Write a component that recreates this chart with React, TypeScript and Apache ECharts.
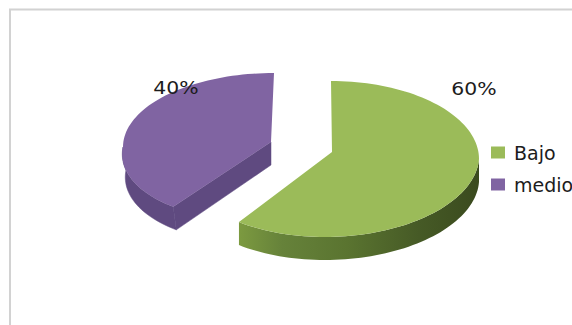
import React, { useEffect, useRef } from "react";
import * as echarts from "echarts";

const categories = ["Bajo", "medio"];
const shares = [60, 40];
const topColors = ["#9bbb59", "#8064a2"];

// Each slice is pulled out of the pie, so it keeps its own ellipse and apex.
// lean slants the lower half of the rim to give the perspective of the tilted pie;
// wallShift moves the bottom edge of the wall sideways for the same reason.
const sliceFrames = [
  { cx: 331, cy: 159, rx: 148, ry: 78, ax: 332, ay: 152, lean: 0.08, wallShift: 0, labelX: 474, labelY: 89 },
  { cx: 274, cy: 147, rx: 151, ry: 74, ax: 271, ay: 142, lean: 0.2, wallShift: 3, labelX: 176, labelY: 88 },
];
const DEPTH = 23;

const total = shares.reduce((a, b) => a + b, 0);

function rimPoint(f: any, deg: number, drop = 0): [number, number] {
  const t = (deg * Math.PI) / 180;
  const dy = -f.ry * Math.cos(t);
  const x = f.cx + f.rx * Math.sin(t) - f.lean * Math.max(0, dy) + (drop ? f.wallShift : 0);
  return [x, f.cy + dy + drop];
}

function arcPoints(f: any, from: number, to: number, drop = 0) {
  const steps = Math.max(2, Math.ceil(Math.abs(to - from) / 2));
  const pts: [number, number][] = [];
  for (let i = 0; i <= steps; i++) pts.push(rimPoint(f, from + ((to - from) * i) / steps, drop));
  return pts;
}

function makeRenderer(index: number) {
  const f = sliceFrames[index];
  const startShare = shares.slice(0, index).reduce((a, b) => a + b, 0);
  return (_params: any, api: any) => {
    const value = api.value(0);
    const start = (startShare / total) * 360;
    const end = start + (value / total) * 360;
    const children: any[] = [];

    // Cut face of the left slice, visible below its lower straight edge.
    if (index === 1) {
      children.push({
        type: "polygon",
        shape: {
          points: [
            [f.ax, f.ay],
            rimPoint(f, start),
            rimPoint(f, start, DEPTH),
            [f.ax, f.ay + DEPTH],
          ],
        },
        style: { fill: "#5f4a80", stroke: "#5f4a80", lineWidth: 0.5 },
      });
    }

    // Outer wall: only the part of the rim facing the viewer (90deg to 270deg).
    const wallFrom = Math.max(start, 90);
    const wallTo = Math.min(end, 270);
    if (wallTo > wallFrom) {
      const upper = arcPoints(f, wallFrom, wallTo);
      const lower = arcPoints(f, wallTo, wallFrom, DEPTH);
      children.push({
        type: "polygon",
        shape: { points: [...upper, ...lower] },
        style:
          index === 0
            ? {
                fill: new echarts.graphic.LinearGradient(0, 0, 1, 0, [
                  { offset: 0, color: "#7c9a40" },
                  { offset: 0.18, color: "#66823a" },
                  { offset: 0.45, color: "#5a7430" },
                  { offset: 0.75, color: "#465a26" },
                  { offset: 1, color: "#3a4a1e" },
                ]),
              }
            : { fill: "#5f4a80", stroke: "#5f4a80", lineWidth: 0.5 },
      });
    }

    // Top face.
    children.push({
      type: "polygon",
      shape: { points: [[f.ax, f.ay], ...arcPoints(f, start, end)] },
      style: { fill: topColors[index] },
    });

    children.push({
      type: "text",
      x: f.labelX,
      y: f.labelY,
      scaleX: 1.2,
      style: {
        text: `${value}%`,
        fill: "#1c1c1c",
        font: '17px "DejaVu Sans"',
        align: "center",
        verticalAlign: "middle",
      },
    });
    return { type: "group", children };
  };
}

export default function App() {
  const ref = useRef<HTMLDivElement>(null);
  useEffect(() => {
    const chart = echarts.init(ref.current!, undefined, { renderer: "svg" });
    chart.setOption({
      animation: false,
      backgroundColor: "#ffffff",
      legend: {
        orient: "vertical",
        left: 491,
        top: 143,
        padding: 0,
        itemWidth: 14,
        itemHeight: 12,
        itemGap: 13,
        icon: "rect",
        data: categories,
        textStyle: { fontFamily: "DejaVu Sans", fontSize: 19, color: "#1c1c1c", padding: [0, 0, 0, 4] },
      },
      graphic: [
        { type: "line", shape: { x1: 9, y1: 9.5, x2: 572, y2: 9.5 }, style: { stroke: "#d2d2d2", lineWidth: 2 } },
        { type: "line", shape: { x1: 10, y1: 9, x2: 10, y2: 325 }, style: { stroke: "#d2d2d2", lineWidth: 2 } },
      ],
      series: categories.map((name, i) => ({
        type: "custom",
        name,
        coordinateSystem: "none",
        itemStyle: { color: topColors[i] },
        renderItem: makeRenderer(i),
        data: [[shares[i]]],
        silent: true,
      })),
    });
    return () => chart.dispose();
  }, []);
  return <div ref={ref} style={{ position: "fixed", left: 0, top: 0, width: 572, height: 325 }} />;
}
